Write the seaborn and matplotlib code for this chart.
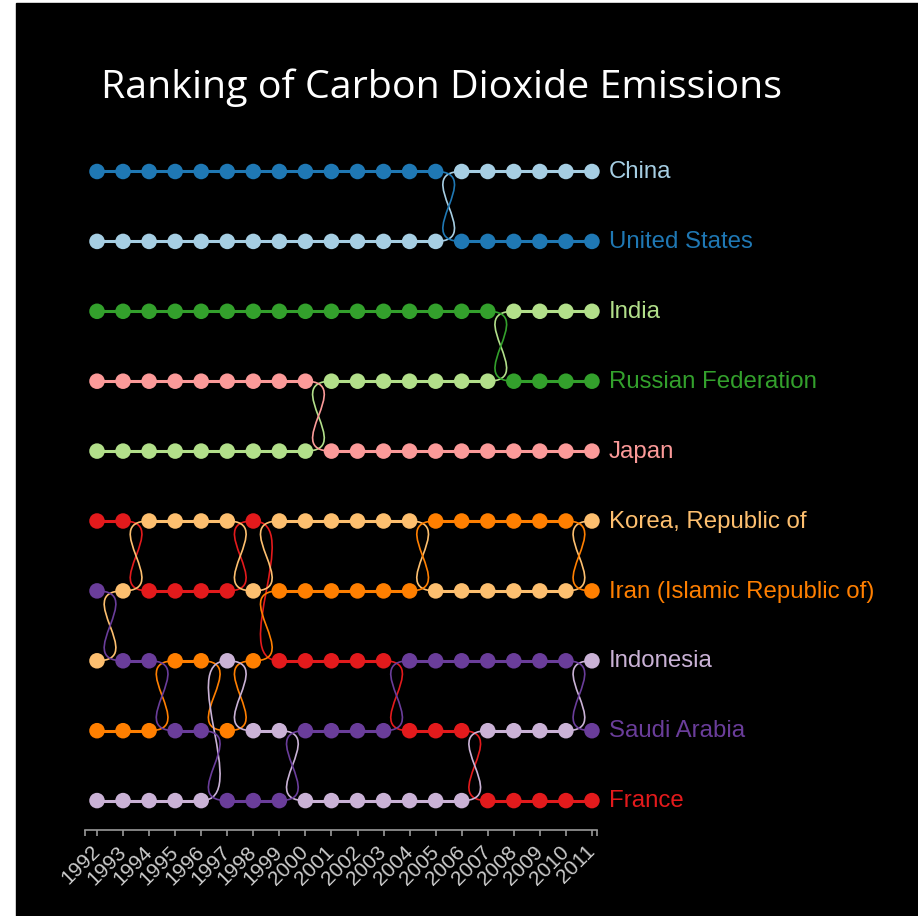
import matplotlib
matplotlib.use('Agg')
import matplotlib.pyplot as plt
from matplotlib.path import Path
from matplotlib.patches import PathPatch, Rectangle
import seaborn as sns
import pandas as pd

years = list(range(1992, 2012))
countries = ['China', 'United States', 'India', 'Russian Federation', 'Japan',
             'France', 'Korea, Republic of', 'Iran (Islamic Republic of)',
             'Indonesia', 'Saudi Arabia']

china = [2, 2, 2, 2, 2, 2, 2, 2, 2, 2, 2, 2, 2, 2, 1, 1, 1, 1, 1, 1]
usa = [1, 1, 1, 1, 1, 1, 1, 1, 1, 1, 1, 1, 1, 1, 2, 2, 2, 2, 2, 2]
india = [5, 5, 5, 5, 5, 5, 5, 5, 5, 4, 4, 4, 4, 4, 4, 4, 3, 3, 3, 3]
russia = [3, 3, 3, 3, 3, 3, 3, 3, 3, 3, 3, 3, 3, 3, 3, 3, 4, 4, 4, 4]
japan = [4, 4, 4, 4, 4, 4, 4, 4, 4, 5, 5, 5, 5, 5, 5, 5, 5, 5, 5, 5]
france = [6, 6, 7, 7, 7, 7, 6, 8, 8, 8, 8, 8, 9, 9, 9, 10, 10, 10, 10, 10]
korea = [8, 7, 6, 6, 6, 6, 7, 6, 6, 6, 6, 6, 6, 7, 7, 7, 7, 7, 7, 6]
iran = [9, 9, 9, 8, 8, 9, 8, 7, 7, 7, 7, 7, 7, 6, 6, 6, 6, 6, 6, 7]
indonesia = [10, 10, 10, 10, 10, 8, 9, 9, 10, 10, 10, 10, 10, 10, 10, 9, 9, 9, 9, 8]
saudi = [7, 8, 8, 9, 9, 10, 10, 10, 9, 9, 9, 9, 8, 8, 8, 8, 8, 8, 8, 9]

ranks = [china, usa, india, russia, japan, france, korea, iran, indonesia, saudi]
colors = sns.color_palette('Paired', 10)

rows = []
for name, rk in zip(countries, ranks):
    for yr, r in zip(years, rk):
        rows.append({'country': name, 'year': yr, 'rank': r})
df = pd.DataFrame(rows)

# figure layout (pixels)
W, H = 918, 916
x_first, x_step = 97, 26.05
y_first, y_step = 171.5, 69.9
ax_l, ax_r, ax_t, ax_b = 85, 597, 100, 830

fig = plt.figure(figsize=(W / 100, H / 100), dpi=100, facecolor='white')
fig.patches.append(Rectangle((16 / W, 0), 1 - 16 / W, (H - 3) / H,
                             transform=fig.transFigure, color='black', zorder=-10))
ax = fig.add_axes([ax_l / W, 1 - ax_b / H, (ax_r - ax_l) / W, (ax_b - ax_t) / H])
ax.set_facecolor('none')
ax.set_zorder(1)

x0 = years[0] - (x_first - ax_l) / x_step
x1 = years[-1] + (ax_r - (x_first + x_step * (len(years) - 1))) / x_step
ax.set_xlim(x0, x1)
ax.set_ylim(1 + (ax_b - y_first) / y_step, 1 - (y_first - ax_t) / y_step)

# connecting segments
for name, rk, c in zip(countries, ranks, colors):
    for i in range(len(years) - 1):
        xa, xb = years[i], years[i + 1]
        ya, yb = rk[i], rk[i + 1]
        if ya == yb:
            ax.plot([xa, xb], [ya, yb], color=c, lw=2.2, solid_capstyle='butt',
                    zorder=2, clip_on=False)
        else:
            d = xb - xa
            verts = [(xa, ya), (xa + 2 * d, ya), (xb - 2 * d, yb), (xb, yb)]
            path = Path(verts, [Path.MOVETO, Path.CURVE4, Path.CURVE4, Path.CURVE4])
            ax.add_patch(PathPatch(path, fill=False, edgecolor=c, lw=1.2, zorder=2,
                                   clip_on=False))

sns.scatterplot(data=df, x='year', y='rank', hue='country', hue_order=countries,
                palette=colors, s=125, linewidth=0, legend=False, ax=ax, zorder=3)
for coll in ax.collections:
    coll.set_clip_on(False)

for name, rk, c in zip(countries, ranks, colors):
    ax.annotate(name, (years[-1], rk[-1]), xytext=(12.2, -0.5), textcoords='offset points',
                color=c, fontsize=17.3, family='Liberation Sans', va='center', ha='left',
                annotation_clip=False)

for s in ['left', 'top', 'right']:
    ax.spines[s].set_visible(False)
ax.spines['bottom'].set_color('#999999')
ax.spines['bottom'].set_linewidth(1.2)
ax.set_yticks([])
ax.set_xticks(years)
ax.set_xticks([x0, x1], minor=True)
ax.tick_params(axis='x', which='both', direction='out', length=4.5, width=1.2,
               color='#999999', labelcolor='#cccccc', labelsize=15, pad=9)
ax.set_xticklabels([str(y) for y in years], rotation=45, ha='right', va='center',
                   rotation_mode='anchor', family='Liberation Sans')
ax.set_xlabel('')
ax.set_ylabel('')

fig.text(101 / W, 1 - 98 / H, 'Ranking of Carbon Dioxide Emissions', color='white',
         fontsize=28.4, family='Open Sans', ha='left', va='baseline')

fig.savefig('out.png', dpi=100, facecolor=fig.get_facecolor())
